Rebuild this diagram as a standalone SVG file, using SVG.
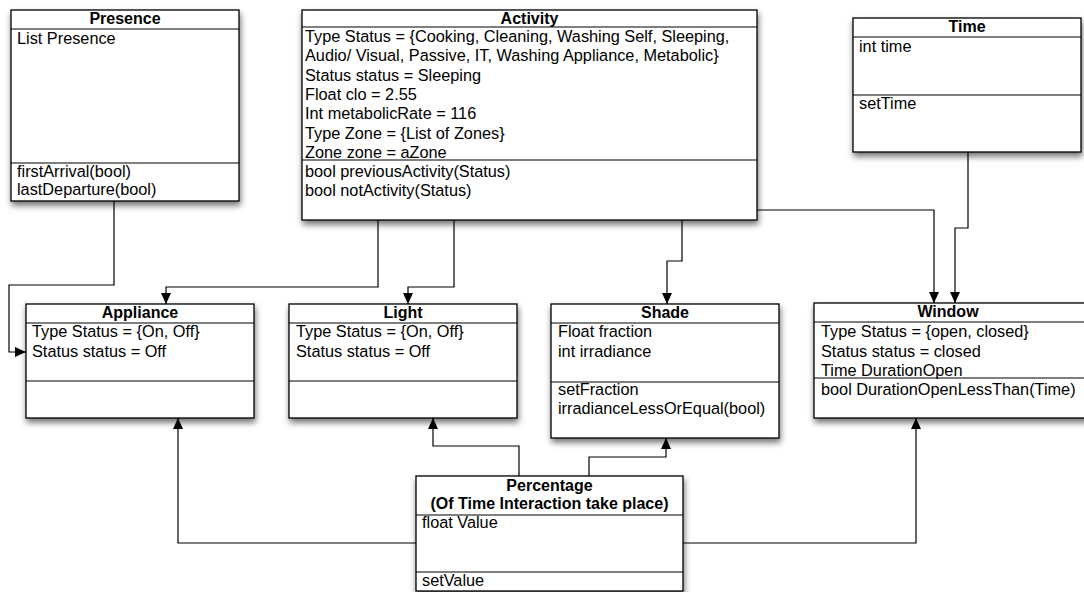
<svg xmlns="http://www.w3.org/2000/svg" width="1084" height="592" viewBox="0 0 1084 592">
<style>
.box{fill:#fff;stroke:#000;stroke-width:1.3}
.sep{stroke:#000;stroke-width:1.2}
.t{font-family:"Liberation Sans",Arial,sans-serif;font-size:16.3px;fill:#000}
.h{font-family:"Liberation Sans",Arial,sans-serif;font-size:16px;font-weight:bold;fill:#000;text-anchor:middle}
.c{fill:none;stroke:#000;stroke-width:1.2}
</style>
<defs>
<filter id="sh" x="-10%" y="-10%" width="130%" height="140%">
<feDropShadow dx="1" dy="4" stdDeviation="3" flood-color="#000" flood-opacity="0.55"/>
</filter>
<marker id="ar" markerUnits="userSpaceOnUse" markerWidth="12" markerHeight="12" refX="11" refY="5" orient="auto">
<path d="M0,0 L11,5 L0,10 z" fill="#000"/>
</marker>
</defs>
<rect width="1084" height="592" fill="#fff"/>
<g id="connectors">
<path class="c" d="M114,201 V285 H9 V352 H26" marker-end="url(#ar)"/>
<path class="c" d="M378,220 V287 H166 V304" marker-end="url(#ar)"/>
<path class="c" d="M454,220 V287 H408 V304" marker-end="url(#ar)"/>
<path class="c" d="M682,220 V261 H667 V304" marker-end="url(#ar)"/>
<path class="c" d="M757,210 H934 V303" marker-end="url(#ar)"/>
<path class="c" d="M968,152 V228 H955 V303" marker-end="url(#ar)"/>
<path class="c" d="M416,543 H178 V418" marker-end="url(#ar)"/>
<path class="c" d="M519,476 V446 H433 V418" marker-end="url(#ar)"/>
<path class="c" d="M589,476 V457 H666 V438" marker-end="url(#ar)"/>
<path class="c" d="M683,543 H916 V418" marker-end="url(#ar)"/>
</g>
<g id="presence">
<rect class="box" x="11" y="10" width="228" height="191" filter="url(#sh)"/>
<line class="sep" x1="11" y1="29" x2="239" y2="29"/>
<line class="sep" x1="11" y1="163" x2="239" y2="163"/>
<text class="h" x="125" y="24">Presence</text>
<text class="t" x="17" y="44">List Presence</text>
<text class="t" x="17" y="177">firstArrival(bool)</text>
<text class="t" x="17" y="195">lastDeparture(bool)</text>
</g>
<g id="activity">
<rect class="box" x="302" y="10" width="455" height="210" filter="url(#sh)"/>
<line class="sep" x1="302" y1="27" x2="757" y2="27"/>
<line class="sep" x1="302" y1="160" x2="757" y2="160"/>
<text class="h" x="529.5" y="24">Activity</text>
<text class="t" x="305" y="42">Type Status = {Cooking, Cleaning, Washing Self, Sleeping,</text>
<text class="t" x="305" y="61.3">Audio/ Visual, Passive, IT, Washing Appliance, Metabolic}</text>
<text class="t" x="305" y="80.6">Status status = Sleeping</text>
<text class="t" x="305" y="99.9">Float clo = 2.55</text>
<text class="t" x="305" y="119.2">Int metabolicRate = 116</text>
<text class="t" x="305" y="138.5">Type Zone = {List of Zones}</text>
<text class="t" x="305" y="157.5">Zone zone = aZone</text>
<text class="t" x="305" y="176.5">bool previousActivity(Status)</text>
<text class="t" x="305" y="195.5">bool notActivity(Status)</text>
</g>
<g id="time">
<rect class="box" x="853" y="18" width="228" height="134" filter="url(#sh)"/>
<line class="sep" x1="853" y1="37" x2="1081" y2="37"/>
<line class="sep" x1="853" y1="95" x2="1081" y2="95"/>
<text class="h" x="967" y="32">Time</text>
<text class="t" x="859" y="52">int time</text>
<text class="t" x="859" y="109">setTime</text>
</g>
<g id="appliance">
<rect class="box" x="26" y="304" width="228" height="114" filter="url(#sh)"/>
<line class="sep" x1="26" y1="323" x2="254" y2="323"/>
<line class="sep" x1="26" y1="381" x2="254" y2="381"/>
<text class="h" x="140" y="318">Appliance</text>
<text class="t" x="32" y="337">Type Status = {On, Off}</text>
<text class="t" x="32" y="357">Status status = Off</text>
</g>
<g id="light">
<rect class="box" x="289" y="304" width="228" height="114" filter="url(#sh)"/>
<line class="sep" x1="289" y1="323" x2="517" y2="323"/>
<line class="sep" x1="289" y1="381" x2="517" y2="381"/>
<text class="h" x="403" y="318">Light</text>
<text class="t" x="296" y="337">Type Status = {On, Off}</text>
<text class="t" x="296" y="357">Status status = Off</text>
</g>
<g id="shade">
<rect class="box" x="551" y="304" width="228" height="134" filter="url(#sh)"/>
<line class="sep" x1="551" y1="323" x2="779" y2="323"/>
<line class="sep" x1="551" y1="382" x2="779" y2="382"/>
<text class="h" x="665" y="318">Shade</text>
<text class="t" x="558" y="337">Float fraction</text>
<text class="t" x="558" y="357">int irradiance</text>
<text class="t" x="558" y="395">setFraction</text>
<text class="t" x="558" y="414">irradianceLessOrEqual(bool)</text>
</g>
<g id="window">
<rect class="box" x="814" y="303" width="280" height="115" filter="url(#sh)"/>
<line class="sep" x1="814" y1="322" x2="1094" y2="322"/>
<line class="sep" x1="814" y1="378" x2="1094" y2="378"/>
<text class="h" x="948" y="317">Window</text>
<text class="t" x="821" y="337">Type Status = {open, closed}</text>
<text class="t" x="821" y="356.5">Status status = closed</text>
<text class="t" x="821" y="376">Time DurationOpen</text>
<text class="t" x="821" y="395">bool DurationOpenLessThan(Time)</text>
</g>
<g id="percentage">
<rect class="box" x="416" y="476" width="267" height="115" filter="url(#sh)"/>
<line class="sep" x1="416" y1="515" x2="683" y2="515"/>
<line class="sep" x1="416" y1="572" x2="683" y2="572"/>
<text class="h" x="549.5" y="491">Percentage</text>
<text class="h" x="549.5" y="509">(Of Time Interaction take place)</text>
<text class="t" x="422" y="528">float Value</text>
<text class="t" x="422" y="586">setValue</text>
</g>
</svg>
